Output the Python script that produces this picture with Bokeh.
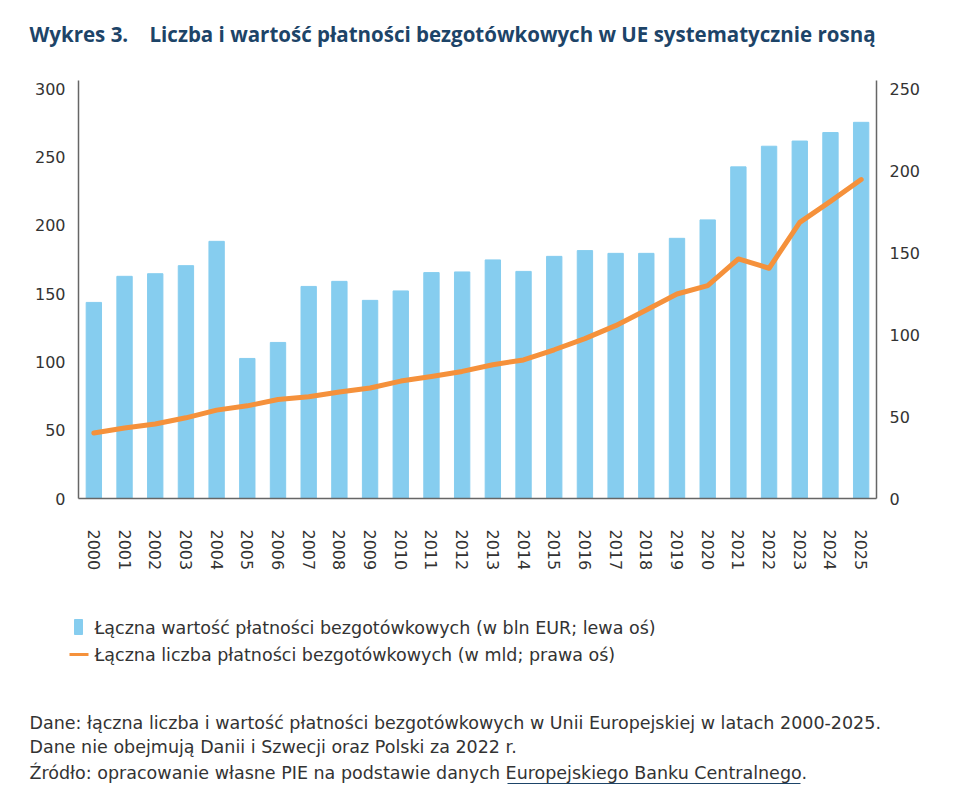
from bokeh.plotting import figure
from bokeh.models import Range1d, LinearAxis, FixedTicker
from bokeh.core.properties import value
from bokeh.embed import file_html
from bokeh.resources import INLINE

years = list(range(2000, 2026))
# łączna wartość płatności bezgotówkowych (bln EUR, lewa oś)
wartosc = [143.5, 162.6, 164.5, 170.4, 188.2, 102.5, 114.2, 155.2, 158.9, 145.0,
           151.9, 165.3, 165.8, 174.6, 166.2, 177.2, 181.4, 179.4, 179.4, 190.4,
           203.9, 242.7, 257.8, 261.6, 267.8, 275.3]
# łączna liczba płatności bezgotówkowych (mld, prawa oś)
liczba = [39.9, 43.0, 45.4, 49.2, 53.9, 56.5, 60.4, 62.1, 65.0, 67.4,
          71.6, 74.4, 77.5, 81.6, 84.5, 90.7, 97.5, 105.4, 115.0, 124.7,
          129.8, 146.1, 140.4, 168.4, 181.2, 194.5]
left_ticks = [0, 50, 100, 150, 200, 250, 300]
right_ticks = [0, 50, 100, 150, 200, 250]

title_lead = "Wykres 3."
title_text = "Liczba i wartość płatności bezgotówkowych w UE systematycznie rosną"
legend_labels = ["Łączna wartość płatności bezgotówkowych (w bln EUR; lewa oś)",
                 "Łączna liczba płatności bezgotówkowych (w mld; prawa oś)"]
notes = ["Dane: łączna liczba i wartość płatności bezgotówkowych w Unii Europejskiej w latach 2000-2025.",
         "Dane nie obejmują Danii i Szwecji oraz Polski za 2022 r.",
         "Źródło: opracowanie własne PIE na podstawie danych Europejskiego Banku Centralnego."]

BLUE = "#86cdef"
ORANGE = "#f5913b"
NAVY = "#1d4468"
TEXT = "#333333"
AXIS = "#666666"
FONT = "DejaVu Sans"
TITLE_FONT = "Open Sans"

L, R, T, B = 78, 876, 80, 498   # plot frame in page pixels

p = figure(x_range=Range1d(years[0] - 0.5, years[-1] + 0.5), y_range=Range1d(0, 305.9),
           width=958, height=790,
           min_border_left=L, min_border_right=958 - R, min_border_top=T, min_border_bottom=790 - B,
           output_backend="svg", toolbar_location=None)
p.extra_y_ranges = {"r": Range1d(0, 254.9), "py": Range1d(-B, -T)}
p.extra_x_ranges = {"px": Range1d(L, R)}

p.vbar(x=years, top=wartosc, width=0.5, color=BLUE)
p.line(x=years, y=liczba, y_range_name="r", line_color=ORANGE, line_width=5,
       line_join="round", line_cap="round")

p.grid.visible = False
p.outline_line_color = None

right = LinearAxis(y_range_name="r")
p.add_layout(right, "right")
p.yaxis[0].ticker = FixedTicker(ticks=left_ticks)
right.ticker = FixedTicker(ticks=right_ticks)
p.xaxis.ticker = FixedTicker(ticks=years)

for ax in p.yaxis + p.xaxis:
    ax.axis_line_color = AXIS
    ax.axis_line_width = 1.5
    ax.major_tick_line_color = None
    ax.minor_tick_line_color = None
    ax.major_tick_out = 0
    ax.major_label_text_font = FONT
    ax.major_label_text_font_size = "16px"
    ax.major_label_text_color = TEXT
for ax in p.yaxis:
    ax.major_label_standoff = 13
p.xaxis.major_label_orientation = "vertical"
p.xaxis.major_label_standoff = 31

# page-pixel layer for title, legend and notes (y is minus the page row)
px = dict(x_range_name="px", y_range_name="py", level="overlay")


def text(xs, ys, items, size="17.5px", font=FONT, color=TEXT, style="normal"):
    p.text(x=xs, y=[-y for y in ys], text=items, text_font=value(font),
           text_font_size=size, text_font_style=style, text_color=color,
           text_baseline="middle", **px)


# title
text([29, 149], [33, 33], [title_lead, title_text], "20.5px", TITLE_FONT, NAVY, "bold")

# legend
p.quad(left=[74], right=[82], top=[-619], bottom=[-634], color=BLUE, **px)
p.segment(x0=[69], y0=[-654], x1=[88], y1=[-654], line_color=ORANGE, line_width=3, **px)
text([94, 94], [627, 654], legend_labels)

# notes and source
text([29, 29, 29], [722, 746, 772], notes)
p.segment(x0=[507], y0=[-783], x1=[800], y1=[-783], line_color=NAVY, line_width=1.2, **px)

open("out.html", "w").write(file_html(p, INLINE))
